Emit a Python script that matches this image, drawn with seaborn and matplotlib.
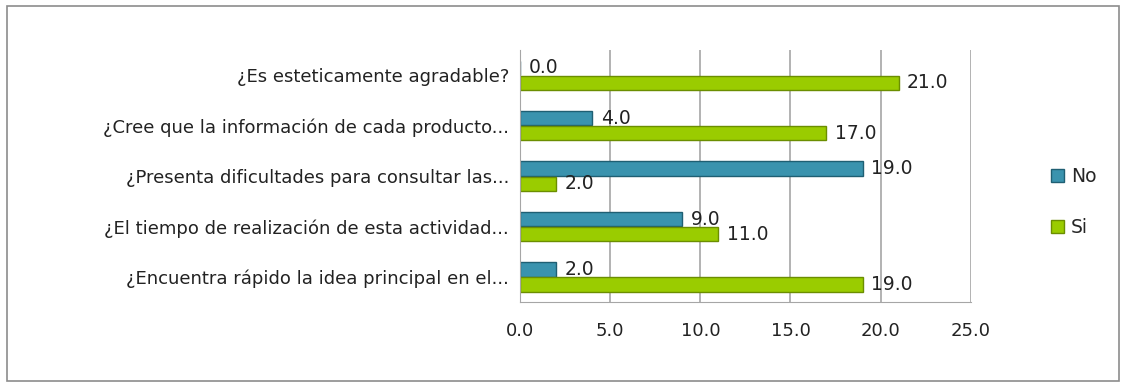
import numpy as np
import pandas as pd
import matplotlib.pyplot as plt
import seaborn as sns
from matplotlib.patches import Rectangle

preguntas = [
    "¿Es esteticamente agradable?",
    "¿Cree que la información de cada producto...",
    "¿Presenta dificultades para consultar las...",
    "¿El tiempo de realización de esta actividad...",
    "¿Encuentra rápido la idea principal en el...",
]
no_vals = [0, 4, 19, 9, 2]
si_vals = [21, 17, 2, 11, 19]
series = ["No", "Si"]
colores = {"No": "#3a93ae", "Si": "#9acc00"}
bordes = {"No": "#1f5f73", "Si": "#6b8e00"}

df = pd.DataFrame({
    "pregunta": preguntas * 2,
    "serie": ["No"] * len(preguntas) + ["Si"] * len(preguntas),
    "valor": no_vals + si_vals,
})

sns.set_style("white")
plt.rcParams['font.family'] = ['DejaVu Sans']

fig = plt.figure(figsize=(11.26, 3.85), dpi=100)
ax = fig.add_axes([0.462, 0.215, 0.4, 0.655])

sns.barplot(data=df, y="pregunta", x="valor", hue="serie", order=preguntas,
            hue_order=series, palette=colores, orient="h", width=0.6,
            gap=0.05, saturation=1, ax=ax, legend=False)

for cont, s in zip(ax.containers, series):
    for p in cont:
        p.set_edgecolor(bordes[s])
        p.set_linewidth(1)
    ax.bar_label(cont, fmt="%.1f", padding=6, fontsize=13.5, color="#222222")

ax.set_xlim(0, 25)
ax.set_xticks(np.arange(0, 26, 5))
ax.set_xticklabels([f"{v:.1f}" for v in np.arange(0, 26, 5)], fontsize=13)
ax.tick_params(axis="x", pad=14, length=0, colors="#222222")
ax.tick_params(axis="y", labelsize=13, pad=8, length=0, colors="#222222")
ax.set_xlabel("")
ax.set_ylabel("")
ax.xaxis.grid(True, color="#a6a6a6", linewidth=1.2)
ax.set_axisbelow(True)
for side in ["top", "right"]:
    ax.spines[side].set_visible(False)
ax.spines["left"].set_color("#a6a6a6")
ax.spines["bottom"].set_color("#a6a6a6")

handles = [Rectangle((0, 0), 1, 1, facecolor=colores[s], edgecolor=bordes[s]) for s in series]
fig.legend(handles, series, loc="center left", bbox_to_anchor=(0.918, 0.475),
           frameon=False, fontsize=13.5, handlelength=0.7, handleheight=0.7,
           labelspacing=1.7, handletextpad=0.4)

fig.patches.append(Rectangle((0.006, 0.01), 0.988, 0.975, transform=fig.transFigure,
                             fill=False, edgecolor="#8c8c8c", linewidth=1.2))

fig.savefig("out.png", dpi=100, facecolor="white")
